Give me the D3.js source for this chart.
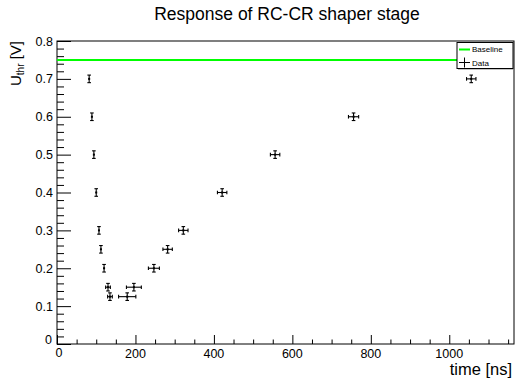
<!DOCTYPE html>
<html>
<head>
<meta charset="utf-8">
<script src="https://cdn.jsdelivr.net/npm/d3@7"></script>
<style>
  body { margin: 0; background: #fff; }
  svg { display: block; font-family: "Liberation Sans", Arial, sans-serif; }
</style>
</head>
<body>
<svg id="chart" width="517" height="379"></svg>
<script>
// measured points (time in ns, threshold in V)
const times = [82, 89, 94, 100, 107, 112, 120, 130, 135, 179, 196, 247, 282, 322, 421, 556, 756, 1056]
const volts = [0.7, 0.6, 0.5, 0.4, 0.3, 0.25, 0.2, 0.15, 0.125, 0.125, 0.15, 0.2, 0.25, 0.3, 0.4, 0.5, 0.6, 0.7]
const timeErr = [1, 1, 1, 1, 1, 1, 2, 6, 6, 22, 19, 14, 12, 12, 12, 12, 13, 12]
const voltErr = [0.01, 0.01, 0.01, 0.01, 0.01, 0.01, 0.01, 0.01, 0.01, 0.01, 0.01, 0.01, 0.01, 0.01, 0.01, 0.01, 0.01, 0.01]
const baseline = 0.75
const xTicks = [0, 200, 400, 600, 800, 1000]
const yTicks = [0, 0.1, 0.2, 0.3, 0.4, 0.5, 0.6, 0.7, 0.8]

const width = 517, height = 379
const frameL = 57, frameR = 514, frameT = 41, frameB = 344

const svg = d3.select("#chart")

const xScale = d3.scaleLinear().domain([0, 1165]).range([frameL, frameR])
const yScale = d3.scaleLinear().domain([0, 0.8]).range([frameB, frameT])

// title
svg.append("text")
   .text("Response of RC-CR shaper stage")
   .attr("x", 287)
   .attr("y", 20)
   .attr("text-anchor", "middle")
   .attr("font-size", 17.5)
   .attr("fill", "#000")

// x axis: ticks point inward (up)
const xAxis = d3.axisTop(xScale).tickValues(d3.range(0, 1165, 50)).tickFormat("")
   .tickSizeOuter(0).tickSize(4.5)
const xAxisSVG = svg.append("g").attr("transform", `translate(0, ${frameB})`).call(xAxis)
xAxisSVG.selectAll(".tick line").filter(d => d % 200 === 0).attr("y2", -9)
xAxisSVG.select(".domain").remove()

svg.append("g").selectAll("text").data(xTicks).join("text")
   .text(d => d)
   .attr("x", d => xScale(d) + (d === 0 ? 2 : 0))
   .attr("y", d => d === 0 ? 357 : 358)
   .attr("text-anchor", "middle")
   .attr("font-size", 12.5)

// y axis: ticks point inward (right)
const yAxis = d3.axisRight(yScale).tickValues(d3.range(0, 0.801, 0.02)).tickFormat("")
   .tickSizeOuter(0).tickSize(7)
const yAxisSVG = svg.append("g").attr("transform", `translate(${frameL}, 0)`).call(yAxis)
yAxisSVG.selectAll(".tick line").filter((d, i) => i % 5 === 0).attr("x2", 14)
yAxisSVG.select(".domain").remove()

svg.append("g").selectAll("text").data(yTicks).join("text")
   .text(d => d === 0 ? "0" : d3.format(".1f")(d))
   .attr("x", d => d === 0 ? 52 : 53)
   .attr("y", d => yScale(d) + (d === 0 ? 0 : 4.5))
   .attr("text-anchor", "end")
   .attr("font-size", 12.5)

// frame
svg.append("rect")
   .attr("x", frameL).attr("y", frameT)
   .attr("width", frameR - frameL).attr("height", frameB - frameT)
   .attr("fill", "none").attr("stroke", "#000").attr("stroke-width", 1)

// axis titles
svg.append("text")
   .text("time [ns]")
   .attr("x", 512)
   .attr("y", 375)
   .attr("text-anchor", "end")
   .attr("font-size", 16.5)

const yLab = svg.append("text")
   .attr("transform", "translate(21, 41) rotate(-90)")
   .attr("text-anchor", "end")
   .attr("font-size", 15)
yLab.append("tspan").text("U")
yLab.append("tspan").text("thr").attr("font-size", 10).attr("dy", 3)
yLab.append("tspan").text(" [V]").attr("dy", -3)

// baseline
svg.append("line")
   .attr("x1", xScale(0)).attr("x2", xScale(1165))
   .attr("y1", yScale(baseline)).attr("y2", yScale(baseline))
   .attr("stroke", "#00ff00").attr("stroke-width", 2)

// data with error bars
const pts = times.map((t, i) => ({t, v: volts[i], et: timeErr[i], ev: voltErr[i]}))
const cap = 1.8
const g = svg.append("g").attr("stroke", "#000").attr("stroke-width", 1.1)
pts.forEach(p => {
  const cx = xScale(p.t), cy = yScale(p.v)
  const x0 = xScale(p.t - p.et), x1 = xScale(p.t + p.et)
  const y0 = yScale(p.v - p.ev), y1 = yScale(p.v + p.ev)
  g.append("line").attr("x1", x0).attr("x2", x1).attr("y1", cy).attr("y2", cy)
  g.append("line").attr("x1", cx).attr("x2", cx).attr("y1", y0).attr("y2", y1)
  g.append("line").attr("x1", cx - cap).attr("x2", cx + cap).attr("y1", y0).attr("y2", y0)
  g.append("line").attr("x1", cx - cap).attr("x2", cx + cap).attr("y1", y1).attr("y2", y1)
  if (x1 - x0 > 3) {
    g.append("line").attr("x1", x0).attr("x2", x0).attr("y1", cy - cap).attr("y2", cy + cap)
    g.append("line").attr("x1", x1).attr("x2", x1).attr("y1", cy - cap).attr("y2", cy + cap)
  }
  g.append("rect").attr("x", cx - 1).attr("y", cy - 1).attr("width", 2).attr("height", 2)
   .attr("fill", "#000").attr("stroke", "none")
})

// legend
const lg = svg.append("g").attr("transform", "translate(457, 42.5)")
lg.append("rect").attr("x", 1).attr("y", 1).attr("width", 56).attr("height", 26).attr("fill", "#888")
lg.append("rect").attr("width", 56).attr("height", 26).attr("fill", "#fff")
   .attr("stroke", "#000").attr("stroke-width", 1)
lg.append("line").attr("x1", 2).attr("x2", 13).attr("y1", 7).attr("y2", 7)
   .attr("stroke", "#00ff00").attr("stroke-width", 2)
lg.append("line").attr("x1", 2).attr("x2", 13).attr("y1", 20).attr("y2", 20).attr("stroke", "#000")
lg.append("line").attr("x1", 7.5).attr("x2", 7.5).attr("y1", 15).attr("y2", 25).attr("stroke", "#000")
lg.append("text").text("Baseline").attr("x", 15).attr("y", 9.8).attr("font-size", 8)
lg.append("text").text("Data").attr("x", 15).attr("y", 23).attr("font-size", 8)
</script>
</body>
</html>
